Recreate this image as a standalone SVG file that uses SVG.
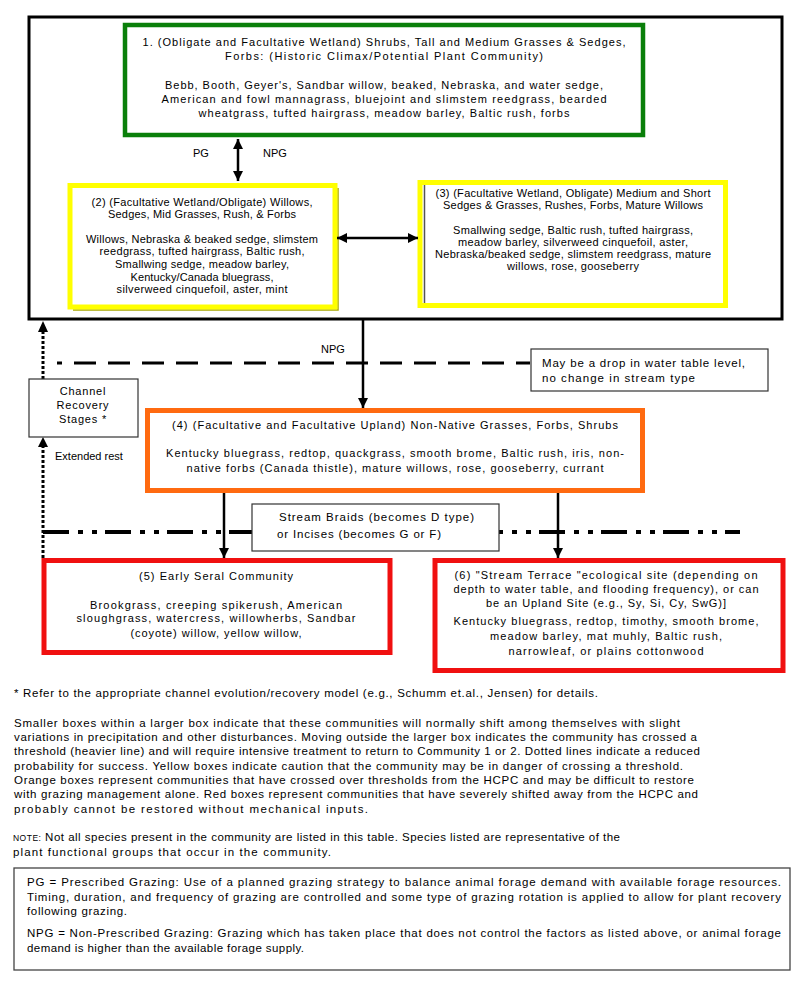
<svg xmlns="http://www.w3.org/2000/svg" width="800" height="987" viewBox="0 0 800 987">
<style>
.t{font-family:"Liberation Sans",Arial,sans-serif;font-size:11px;fill:#000}
.c{text-anchor:middle}
.n{font-family:"Liberation Sans Narrow","Arial Narrow","Liberation Sans",Arial,sans-serif;font-size:11.5px;fill:#000}
.f{font-family:"Liberation Sans Narrow","Arial Narrow","Liberation Sans",Arial,sans-serif;font-size:11.5px;fill:#000}
.g{fill:#fff;stroke:#0a7f0a;stroke-width:4.5}
.y{fill:#fff;stroke:#ffff00;stroke-width:5}
.ys{fill:none;stroke:#a8a800;stroke-width:1.5}
.o{fill:#fff;stroke:#ff6a10;stroke-width:5}
.r{fill:#fff;stroke:#f01010;stroke-width:5}
.b{fill:#fff;stroke:#333;stroke-width:1.2}
.a{stroke:#000;stroke-width:2.5;fill:none}
</style>
<defs>
<marker id="ah" viewBox="0 0 10 10" refX="10" refY="5" markerWidth="10" markerHeight="10" markerUnits="userSpaceOnUse" orient="auto-start-reverse">
<path d="M0,0 L10,5 L0,10 z" fill="#000"/>
</marker>
</defs>
<rect width="800" height="987" fill="#fff"/>

<g id="threshold-box">
<rect x="29" y="17" width="753" height="302" fill="none" stroke="#000" stroke-width="3"/>
</g>

<g id="n1">
<rect class="g" x="125" y="25" width="518" height="110"/>
<text class="t c" x="384" y="46" textLength="483">1. (Obligate and Facultative Wetland) Shrubs, Tall and Medium Grasses &amp; Sedges,</text>
<text class="t c" x="384" y="60" textLength="318">Forbs: (Historic Climax/Potential Plant Community)</text>
<text class="t c" x="384" y="89" textLength="438">Bebb, Booth, Geyer's, Sandbar willow, beaked, Nebraska, and water sedge,</text>
<text class="t c" x="384" y="103" textLength="445">American and fowl mannagrass, bluejoint and slimstem reedgrass, bearded</text>
<text class="t c" x="384" y="117" textLength="371">wheatgrass, tufted hairgrass, meadow barley, Baltic rush, forbs</text>
</g>

<g id="n2">
<path class="ys" d="M73,310 H338 V188"/>
<rect class="y" x="70" y="185.5" width="265" height="121.5"/>
<text class="t c" x="202" y="206" textLength="221">(2) (Facultative Wetland/Obligate) Willows,</text>
<text class="t c" x="202" y="218" textLength="188">Sedges, Mid Grasses, Rush, &amp; Forbs</text>
<text class="t c" x="202" y="243" textLength="232">Willows, Nebraska &amp; beaked sedge, slimstem</text>
<text class="t c" x="202" y="255" textLength="205">reedgrass, tufted hairgrass, Baltic rush,</text>
<text class="t c" x="202" y="268" textLength="174">Smallwing sedge, meadow barley,</text>
<text class="t c" x="202" y="281" textLength="143">Kentucky/Canada bluegrass,</text>
<text class="t c" x="202" y="293" textLength="171">silverweed cinquefoil, aster, mint</text>
</g>

<g id="n3">
<rect class="y" x="420" y="182.5" width="305.5" height="123"/>
<line x1="424.5" y1="185" x2="424.5" y2="303" stroke="#555" stroke-width="1.5"/>
<text class="t c" x="573" y="197" textLength="275">(3) (Facultative Wetland, Obligate) Medium and Short</text>
<text class="t c" x="573" y="209" textLength="260">Sedges &amp; Grasses, Rushes, Forbs, Mature Willows</text>
<text class="t c" x="573" y="234" textLength="240">Smallwing sedge, Baltic rush, tufted hairgrass,</text>
<text class="t c" x="573" y="246" textLength="230">meadow barley, silverweed cinquefoil, aster,</text>
<text class="t c" x="573" y="258" textLength="276">Nebraska/beaked sedge, slimstem reedgrass, mature</text>
<text class="t c" x="573" y="270" textLength="132">willows, rose, gooseberry</text>
</g>

<g id="thresholds">
<line x1="57" y1="363" x2="530" y2="363" stroke="#000" stroke-width="3" stroke-dasharray="5 12 22 12 22 12 22 12 22 12 22 12 22 12 22 12 22 12 22 12 22 12 22 12 22 12 22 12 22 12 22 12 22 12 22 12"/>
<line x1="43" y1="532" x2="740" y2="532" stroke="#000" stroke-width="4" stroke-dasharray="26 9 5 9 5 8"/>
</g>

<g id="connectors">
<line class="a" x1="238" y1="139" x2="238" y2="181" marker-start="url(#ah)" marker-end="url(#ah)"/>
<line class="a" x1="337" y1="238" x2="418" y2="238" marker-start="url(#ah)" marker-end="url(#ah)"/>
<line class="a" x1="363" y1="320" x2="363" y2="408" marker-end="url(#ah)"/>
<line class="a" x1="224" y1="491" x2="224" y2="558" marker-end="url(#ah)"/>
<line class="a" x1="558" y1="491" x2="558" y2="558" marker-end="url(#ah)"/>
<line x1="43" y1="558" x2="43" y2="446" stroke="#000" stroke-width="3" stroke-dasharray="3 2"/>
<path d="M38,447 L43,437 L48,447 z" fill="#000"/>
<line x1="43" y1="379" x2="43" y2="331" stroke="#000" stroke-width="3" stroke-dasharray="3 2"/>
<path d="M38,332 L43,321 L48,332 z" fill="#000"/>
<text class="t" x="193" y="157">PG</text>
<text class="t" x="263" y="157">NPG</text>
<text class="t" x="321" y="353">NPG</text>
<text class="t" x="55" y="460">Extended rest</text>
</g>

<g id="channel-recovery">
<rect class="b" x="29" y="379" width="109" height="58"/>
<text class="t c" x="83" y="395" letter-spacing="0.8">Channel</text>
<text class="t c" x="83" y="409" letter-spacing="0.8">Recovery</text>
<text class="t c" x="83" y="423" letter-spacing="0.8">Stages *</text>
</g>

<g id="water-table-note">
<rect class="b" x="531" y="349" width="237" height="42"/>
<text class="n" x="542" y="367" textLength="203">May be a drop in water table level,</text>
<text class="n" x="542" y="382" textLength="153">no change in stream type</text>
</g>

<g id="n4">
<rect class="o" x="147.5" y="410.5" width="495" height="80"/>
<text class="t c" x="395" y="429" textLength="446">(4)  (Facultative and Facultative Upland) Non-Native Grasses, Forbs, Shrubs</text>
<text class="t c" x="395" y="457" textLength="458">Kentucky bluegrass, redtop, quackgrass, smooth brome, Baltic rush, iris, non-</text>
<text class="t c" x="395" y="472" textLength="417">native forbs (Canada thistle), mature willows, rose, gooseberry, currant</text>
</g>

<g id="stream-braids-note">
<rect class="b" x="252" y="504" width="247" height="47"/>
<text class="n" x="279" y="521" textLength="195">Stream  Braids (becomes D type)</text>
<text class="n" x="277" y="538" textLength="164">or Incises (becomes G or F)</text>
</g>

<g id="n5">
<rect class="r" x="44" y="560.5" width="346" height="92"/>
<text class="t c" x="216" y="580" textLength="154">(5) Early Seral Community</text>
<text class="t c" x="216" y="609" textLength="252">Brookgrass, creeping spikerush, American</text>
<text class="t c" x="216" y="622" textLength="279">sloughgrass, watercress, willowherbs, Sandbar</text>
<text class="t c" x="216" y="637" textLength="171">(coyote) willow, yellow willow,</text>
</g>

<g id="n6">
<rect class="r" x="435" y="560.5" width="348" height="110"/>
<text class="t c" x="606" y="579" textLength="303">(6) "Stream Terrace "ecological site (depending on</text>
<text class="t c" x="606" y="593" textLength="305">depth to water table, and flooding frequency), or can</text>
<text class="t c" x="606" y="607" textLength="240">be an Upland Site (e.g., Sy, Si, Cy, SwG)]</text>
<text class="t c" x="606" y="625" textLength="305">Kentucky bluegrass, redtop, timothy, smooth brome,</text>
<text class="t c" x="606" y="640" textLength="232">meadow barley, mat muhly, Baltic rush,</text>
<text class="t c" x="606" y="655" textLength="195">narrowleaf, or plains cottonwood</text>
</g>

<g id="footnotes">
<text class="f" x="14" y="697" textLength="584">*  Refer to the appropriate channel evolution/recovery model (e.g., Schumm et.al., Jensen) for details.</text>
<text class="f" x="14" y="727" textLength="666">Smaller boxes within a larger box indicate that these communities will normally shift among themselves with slight</text>
<text class="f" x="14" y="741" textLength="683">variations in precipitation and other disturbances.  Moving outside the larger box indicates the community has crossed a</text>
<text class="f" x="14" y="755" textLength="686">threshold (heavier line) and will require intensive treatment to return to Community 1 or 2.  Dotted lines indicate a reduced</text>
<text class="f" x="14" y="770" textLength="669">probability for success.  Yellow boxes indicate caution that the community may be in danger of crossing a threshold.</text>
<text class="f" x="14" y="784" textLength="680">Orange boxes represent communities that have crossed over thresholds from the HCPC and may be difficult to restore</text>
<text class="f" x="14" y="798" textLength="684">with grazing management alone.  Red boxes represent communities that have severely shifted away from the HCPC and</text>
<text class="f" x="14" y="813" textLength="354">probably cannot be restored without mechanical inputs.</text>
<text class="f" x="13" y="841" textLength="607"><tspan font-size="8.5">NOTE:</tspan>  Not all species present in the community are listed in this table.  Species listed are representative of the</text>
<text class="f" x="13" y="856" textLength="318">plant functional groups that occur in the community.</text>
</g>

<g id="grazing-legend">
<rect x="14" y="868" width="776" height="102" fill="#fff" stroke="#444" stroke-width="1.3"/>
<text class="f" x="27" y="886" textLength="754">PG = Prescribed Grazing:  Use of a planned grazing strategy to balance animal forage demand with available forage resources.</text>
<text class="f" x="27" y="901" textLength="754">Timing, duration, and frequency of grazing are controlled and some type of grazing rotation is applied to allow for plant recovery</text>
<text class="f" x="27" y="915" textLength="100">following grazing.</text>
<text class="f" x="27" y="937" textLength="754">NPG = Non-Prescribed Grazing:  Grazing which has taken place that does not control the factors as listed above, or animal forage</text>
<text class="f" x="27" y="952" textLength="277">demand is higher than the available forage supply.</text>
</g>
</svg>
